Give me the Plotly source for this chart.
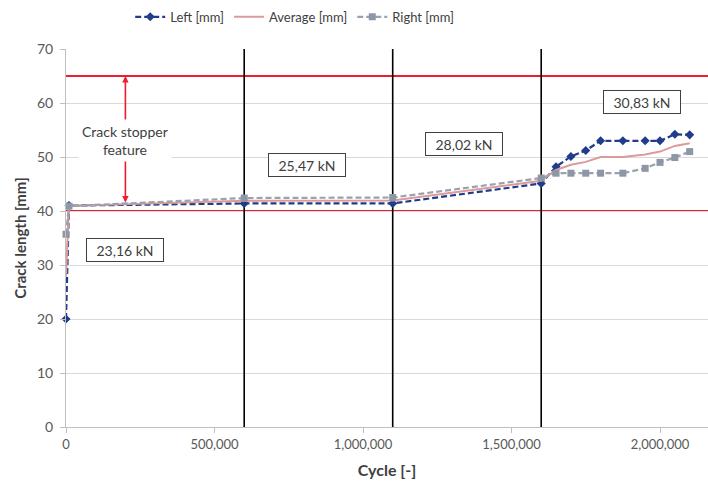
import plotly.graph_objects as go

cycles = [0, 10000, 600000, 1100000, 1600000, 1650000, 1700000, 1750000,
          1800000, 1875000, 1950000, 2000000, 2050000, 2100000]
left_mm = [20.0, 41.0, 41.4, 41.4, 45.1, 48.2, 50.1, 51.2, 53.0, 53.0, 53.0, 53.0, 54.2, 54.1]
right_mm = [35.7, 40.9, 42.4, 42.5, 46.1, 47.0, 47.0, 47.0, 47.0, 47.0, 47.9, 49.0, 49.9, 51.0]
avg_mm = [round((a + b) / 2, 2) for a, b in zip(left_mm, right_mm)]

phase_bounds = [600000, 1100000, 1600000]
limit_lines = [40, 65]
load_labels = ["23,16 kN", "25,47 kN", "28,02 kN", "30,83 kN"]
load_label_x = [200000, 811000, 1340000, 1939000]
load_label_y = [32.7, 48.5, 52.4, 60.2]
arrow_x = 200000
arrow_y = [41.3, 65]

FONT = "Lato"
TXT = "#404040"

fig = go.Figure()
fig.add_trace(go.Scatter(
    x=cycles, y=left_mm, name="Left [mm]", mode="lines+markers",
    line=dict(color="#203c8a", width=2.2, dash="6px,3px"),
    marker=dict(symbol="diamond", size=7, color="#203c8a"),
    cliponaxis=False))
fig.add_trace(go.Scatter(
    x=cycles, y=avg_mm, name="Average [mm]", mode="lines",
    line=dict(color="#dc9a9a", width=2),
    cliponaxis=False))
fig.add_trace(go.Scatter(
    x=cycles, y=right_mm, name="Right [mm]", mode="lines+markers",
    line=dict(color="#9aa2ae", width=2.2, dash="6px,3px"),
    marker=dict(symbol="square", size=7, color="#8e97a5"),
    cliponaxis=False))

shapes = []
for xb in phase_bounds:
    shapes.append(dict(type="line", xref="x", yref="y", x0=xb, x1=xb, y0=0, y1=70,
                       line=dict(color="black", width=1.6), layer="between"))
for yl in limit_lines:
    shapes.append(dict(type="line", xref="paper", yref="y", x0=0, x1=1, y0=yl, y1=yl,
                       line=dict(color="#ee1c2e", width=1.8), layer="between"))

annotations = [
    dict(x=arrow_x, y=arrow_y[1], ax=arrow_x, ay=arrow_y[0], xref="x", yref="y",
         axref="x", ayref="y", text="", showarrow=True, arrowhead=2, arrowsize=0.8,
         arrowside="end+start", arrowwidth=1.6, arrowcolor="#ee1c2e"),
    dict(x=arrow_x, y=53.1, xref="x", yref="y", text="Crack stopper<br>feature",
         showarrow=False, bgcolor="white", font=dict(family=FONT, size=14, color=TXT),
         borderpad=3),
]
for t, xx, yy in zip(load_labels, load_label_x, load_label_y):
    annotations.append(dict(x=xx, y=yy, xref="x", yref="y", text=t, showarrow=False,
                            bgcolor="white", bordercolor="#404040", borderwidth=1,
                            borderpad=2, width=72, height=18,
                            font=dict(family=FONT, size=14, color=TXT)))

fig.update_layout(
    width=708, height=482,
    margin=dict(l=66, r=0, t=49, b=55),
    paper_bgcolor="white", plot_bgcolor="white",
    font=dict(family=FONT, size=13, color=TXT),
    shapes=shapes, annotations=annotations,
    showlegend=True,
    legend=dict(orientation="h", x=0.1, xanchor="left", y=1.085, yanchor="middle",
                font=dict(family=FONT, size=13, color=TXT), itemwidth=30,
                tracegroupgap=0, bgcolor="rgba(0,0,0,0)"),
    xaxis=dict(range=[0, 2161600], tickvals=[0, 500000, 1000000, 1500000, 2000000],
               tickformat=",d", showgrid=False, zeroline=False,
               showline=True, linecolor="#bfbfbf", linewidth=1,
               ticks="outside", ticklen=5, tickcolor="#bfbfbf",
               tickfont=dict(family=FONT, size=13, color="#595959"),
               title=dict(text="<b>Cycle [-]</b>", font=dict(family=FONT, size=16, color=TXT),
                          standoff=14)),
    yaxis=dict(range=[0, 70], dtick=10, showgrid=True, gridcolor="#d9d9d9", gridwidth=1,
               zeroline=False, showline=True, linecolor="#bfbfbf", linewidth=1,
               ticks="outside", ticklen=5, tickcolor="#bfbfbf", ticklabelstandoff=4,
               tickfont=dict(family=FONT, size=14, color="#595959"),
               title=dict(text="<b>Crack length [mm]</b>",
                          font=dict(family=FONT, size=15, color=TXT), standoff=6)),
)

fig.write_html("out.html")
